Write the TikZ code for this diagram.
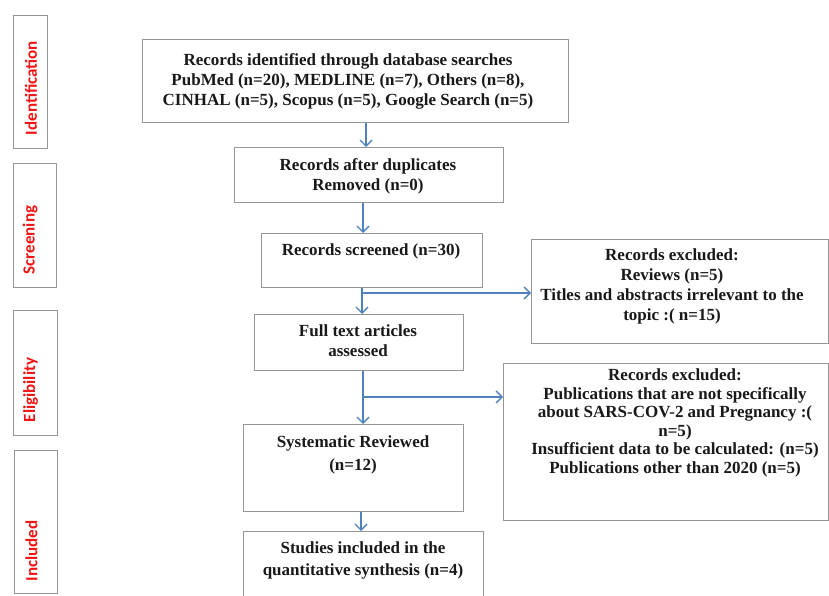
\documentclass[tikz,border=0pt]{standalone}
\usepackage{fontspec}
\setmainfont{Liberation Serif}
\newfontfamily\phasefont{Carlito}
\usetikzlibrary{arrows.meta}
\definecolor{arrblue}{RGB}{79,129,189}
\definecolor{boxgray}{RGB}{150,150,150}
\definecolor{phred}{RGB}{240,20,20}
\tikzset{
  box/.style={draw=boxgray, line width=1.3pt, fill=white, anchor=north west, inner sep=0pt},
  txt/.style={anchor=north, inner sep=0pt, align=center, text=black!90, font=\bfseries\fontsize{17}{20}\selectfont},
  phase/.style={rotate=90, inner sep=0pt, text=phred, font=\phasefont\bfseries\fontsize{17}{20}\selectfont},
  arr/.style={draw=arrblue, line width=1.2pt, -{Straight Barb[length=6pt,width=12pt,line width=1.4pt]}}
}
\begin{document}
\begin{tikzpicture}[x=1pt,y=-1pt]
\useasboundingbox (0,0) rectangle (829,596);
% phase boxes
\node[box, minimum width=34pt, minimum height=133pt] (p1) at (13,15) {};
\node[box, minimum width=43pt, minimum height=124pt] (p2) at (13,163) {};
\node[box, minimum width=44pt, minimum height=125pt] (p3) at (13,310) {};
\node[box, minimum width=43pt, minimum height=143pt] (p4) at (14,450) {};
\node[phase] (l1) at (31,88) {Identification};
\node[phase] (l2) at (30,240) {Screening};
\node[phase] (l3) at (30.5,390) {Eligibility};
\node[phase] (l4) at (31.5,551) {Included};
% main boxes
\node[box, minimum width=426pt, minimum height=83pt] (b1) at (142,39) {};
\node[box, minimum width=269pt, minimum height=55pt] (b2) at (234,147) {};
\node[box, minimum width=221pt, minimum height=54pt] (b3) at (261,233) {};
\node[box, minimum width=209pt, minimum height=56pt] (b4) at (254,314) {};
\node[box, minimum width=220pt, minimum height=87pt] (b5) at (243,424) {};
\node[box, minimum width=240pt, minimum height=80pt] (b6) at (243,531) {};
\node[box, minimum width=297pt, minimum height=104pt] (e1) at (531,239) {};
\node[box, minimum width=325pt, minimum height=157pt] (e2) at (503,363) {};
% texts
\node[txt] (t1) at (348,53.5) {Records identified through database searches\\PubMed (n=20), MEDLINE (n=7), Others (n=8),\\CINHAL (n=5), Scopus (n=5), Google Search (n=5)};
\node[txt] (t2) at (368,158.5) {Records after duplicates\\Removed (n=0)};
\node[txt] (t3) at (371,243.5) {Records screened (n=30)};
\node[txt] (t4) at (358,324.5) {Full text articles\\assessed};
\node[txt, font=\bfseries\fontsize{17}{23}\selectfont] (t5) at (353,435.5) {Systematic Reviewed\\(n=12)};
\node[txt, font=\bfseries\fontsize{17}{22}\selectfont] (t6) at (363,541.5) {Studies included in the\\quantitative synthesis (n=4)};
\node[txt] (te1) at (672,248.5) {Records excluded:\\Reviews (n=5)\\Titles and abstracts irrelevant to the\\topic :( n=15)};
\node[txt, font=\bfseries\fontsize{17}{18.6}\selectfont] (te2) at (675,368.5) {Records excluded:\\Publications that are not specifically\\about SARS-COV-2 and Pregnancy :(\\n=5)\\Insufficient data to be calculated: (n=5)\\Publications other than 2020 (n=5)};
% connectors
\coordinate (x1) at (366,0);
\coordinate (x2) at (363,0);
\coordinate (j1) at (362,293);
\coordinate (j2) at (363,397);
\coordinate (x5) at (361,0);
\draw[arr] (b1.south -| x1) -- (b2.north -| x1);
\draw[arr] (b2.south -| x2) -- (b3.north -| x2);
\draw[arr] (b3.south -| j1) -- (b4.north -| j1);
\draw[arr] (j1) -- (e1.west |- j1);
\draw[arr] (b4.south -| j2) -- (b5.north -| j2);
\draw[arr] (j2) -- (e2.west |- j2);
\draw[arr] (b5.south -| x5) -- (b6.north -| x5);
\end{tikzpicture}
\end{document}
